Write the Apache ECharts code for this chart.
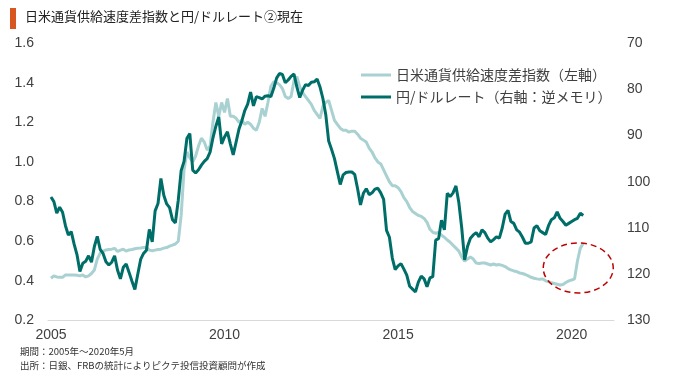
<!DOCTYPE html>
<html><head><meta charset="utf-8">
<script src="https://cdn.jsdelivr.net/npm/echarts@6/dist/echarts.min.js"></script>
<style>html,body{margin:0;padding:0;background:#fff}#c{width:680px;height:378px}</style>
</head><body><div id="c"></div>
<script>
// ---- data ----
const START_YEAR = 2005; // monthly data, Jan 2005 .. May 2020
const titleText = '日米通貨供給速度差指数と円/ドルレート②現在';
const seriesNames = ['日米通貨供給速度差指数（左軸）', '円/ドルレート（右軸：逆メモリ）'];
const xTickYears = [2005, 2010, 2015, 2020];
const leftTicks = [0.2, 0.4, 0.6, 0.8, 1.0, 1.2, 1.4, 1.6];
const rightTicks = [70, 80, 90, 100, 110, 120, 130];
const notes = ['期間：2005年～2020年5月', '出所：日銀、FRBの統計によりピクテ投信投資顧問が作成'];

const mbIndex = [
  0.413,0.425,0.420,0.418,0.418,0.430,0.430,0.430,0.430,0.428,0.425,0.430,
  0.420,0.425,0.437,0.455,0.510,0.540,0.550,0.556,0.558,0.560,0.564,0.548,
  0.555,0.560,0.550,0.556,0.558,0.562,0.565,0.566,0.568,0.568,0.555,0.552,
  0.555,0.558,0.560,0.565,0.568,0.575,0.580,0.586,0.600,0.730,0.960,1.050,
  1.020,1.000,1.030,1.080,1.120,1.100,1.060,1.080,1.200,1.300,1.230,1.300,
  1.250,1.320,1.230,1.230,1.220,1.200,1.210,1.190,1.200,1.190,1.170,1.160,
  1.200,1.270,1.230,1.300,1.380,1.405,1.400,1.390,1.370,1.330,1.320,1.330,
  1.410,1.430,1.380,1.350,1.330,1.310,1.290,1.260,1.240,1.220,1.280,1.300,
  1.310,1.260,1.210,1.190,1.170,1.160,1.160,1.150,1.155,1.155,1.140,1.120,
  1.110,1.100,1.070,1.050,1.020,1.000,0.990,0.960,0.930,0.900,0.880,0.880,
  0.870,0.850,0.820,0.800,0.770,0.750,0.740,0.730,0.725,0.715,0.695,0.660,
  0.645,0.640,0.645,0.630,0.620,0.606,0.595,0.580,0.565,0.550,0.520,0.500,
  0.510,0.520,0.510,0.490,0.488,0.490,0.490,0.485,0.480,0.485,0.480,0.482,
  0.478,0.472,0.462,0.455,0.450,0.447,0.440,0.437,0.432,0.425,0.418,0.413,
  0.410,0.408,0.410,0.400,0.396,0.390,0.387,0.383,0.379,0.382,0.392,0.400,
  0.404,0.410,0.500,0.565,0.590
];

const usdjpy = [
  103.3,104.3,106.8,105.5,106.6,109.5,111.5,110.8,113.5,115.8,119.4,117.6,
  117.2,116.0,117.4,114.0,111.8,114.6,115.5,117.3,118.0,117.4,116.0,119.1,
  121.0,118.5,117.8,119.6,121.5,123.3,120.0,116.8,115.5,114.8,110.3,113.0,
  106.3,104.7,99.3,102.9,104.8,105.6,108.2,108.9,104.0,97.6,95.6,90.6,
  89.6,97.5,98.1,97.4,96.4,95.6,95.0,93.6,90.5,88.0,86.0,91.8,
  90.3,89.2,91.8,94.2,91.4,88.6,86.8,84.6,83.2,80.6,83.6,81.6,
  81.8,82.1,81.5,81.4,81.6,79.8,77.6,76.6,76.8,78.6,78.0,77.2,
  76.7,79.5,81.8,80.2,79.0,79.2,78.5,78.4,77.8,79.5,82.0,85.5,
  91.2,93.0,95.0,97.8,100.6,98.5,98.0,97.9,97.9,98.4,101.5,105.0,
  102.5,101.5,102.8,102.4,101.6,101.4,102.4,103.8,110.5,112.0,116.5,119.0,
  118.2,117.7,118.9,120.2,122.6,123.2,123.8,121.7,120.4,121.0,122.7,120.8,
  120.5,112.6,112.3,108.3,110.4,102.5,103.2,102.4,100.9,104.5,110.0,116.9,
  114.0,112.2,111.5,111.0,111.9,110.4,111.0,112.2,113.0,112.5,111.9,112.2,
  110.0,107.0,106.2,108.6,109.0,110.4,110.9,112.0,113.3,113.3,113.0,110.0,
  109.5,110.6,111.0,111.4,109.5,108.2,107.8,106.5,107.9,108.6,109.4,109.0,
  108.6,108.2,107.9,106.8,107.3
];

// ---- chart ----
const toPairs = arr => arr.map((v, i) => [START_YEAR + i / 12, v]);
const FONT = "'Liberation Sans', 'Noto Sans CJK JP', sans-serif";
const CJK = "'Noto Sans CJK JP', sans-serif";
const chart = echarts.init(document.getElementById('c'), null, {renderer: 'canvas'});

const baseGraphic = [
  {type: 'rect', shape: {x: 10, y: 8, width: 6, height: 21}, style: {fill: '#d8561f'}},
  {type: 'text', left: 25, top: 10, style: {text: titleText, font: "13px 'Noto Sans CJK JP'", fill: '#222'}},
  {type: 'text', left: 20, top: 347, style: {text: notes[0], font: "9.5px 'Noto Sans CJK JP'", fill: '#333'}},
  {type: 'text', left: 20, top: 361, style: {text: notes[1], font: "9.5px 'Noto Sans CJK JP'", fill: '#333'}}
];

const option = {
  animation: false,
  backgroundColor: '#ffffff',
  grid: {left: 48, right: 66, top: 43, bottom: 57.5, containLabel: false},
  legend: {
    orient: 'vertical', left: 356, top: 63, itemWidth: 30, itemHeight: 3, itemGap: 8,
    icon: 'rect',
    textStyle: {fontFamily: CJK, fontSize: 14, color: '#404040'},
    data: seriesNames
  },
  xAxis: {
    type: 'value', min: 2004.914, max: 2021.22,
    axisLine: {show: true, lineStyle: {color: '#d9d9d9', width: 1}},
    axisTick: {show: false},
    splitLine: {show: false},
    axisLabel: {customValues: xTickYears, formatter: v => String(Math.round(v)),
      fontFamily: FONT, fontSize: 14, color: '#404040', margin: 8}
  },
  yAxis: [
    {type: 'value', min: leftTicks[0], max: leftTicks[leftTicks.length - 1], interval: 0.2,
     axisLine: {show: false}, axisTick: {show: false}, splitLine: {show: false},
     axisLabel: {formatter: v => v.toFixed(1), fontFamily: FONT, fontSize: 14, color: '#404040', margin: 14}},
    {type: 'value', min: rightTicks[0], max: rightTicks[rightTicks.length - 1], interval: 10, inverse: true,
     position: 'right',
     axisLine: {show: false}, axisTick: {show: false}, splitLine: {show: false},
     axisLabel: {fontFamily: FONT, fontSize: 14, color: '#404040', margin: 13}}
  ],
  series: [
    {name: seriesNames[0], type: 'line', yAxisIndex: 0, data: toPairs(mbIndex),
     symbol: 'none', lineStyle: {color: '#a9d1d1', width: 3}, itemStyle: {color: '#a9d1d1'}},
    {name: seriesNames[1], type: 'line', yAxisIndex: 1, data: toPairs(usdjpy),
     symbol: 'none', lineStyle: {color: '#006e68', width: 3}, itemStyle: {color: '#006e68'}}
  ],
  graphic: baseGraphic
};
chart.setOption(option);

// annotation ellipse around the latest rise (positioned from data coordinates)
const c = chart.convertToPixel({xAxisIndex: 0, yAxisIndex: 0}, [2020.19, 0.465]);
chart.setOption({graphic: baseGraphic.concat([
  {type: 'ellipse', shape: {cx: c[0], cy: c[1], rx: 35, ry: 25},
   style: {fill: 'none', stroke: '#c00000', lineWidth: 1.5, lineDash: [6, 4]}, z: 100}
])});
</script>
</body></html>
